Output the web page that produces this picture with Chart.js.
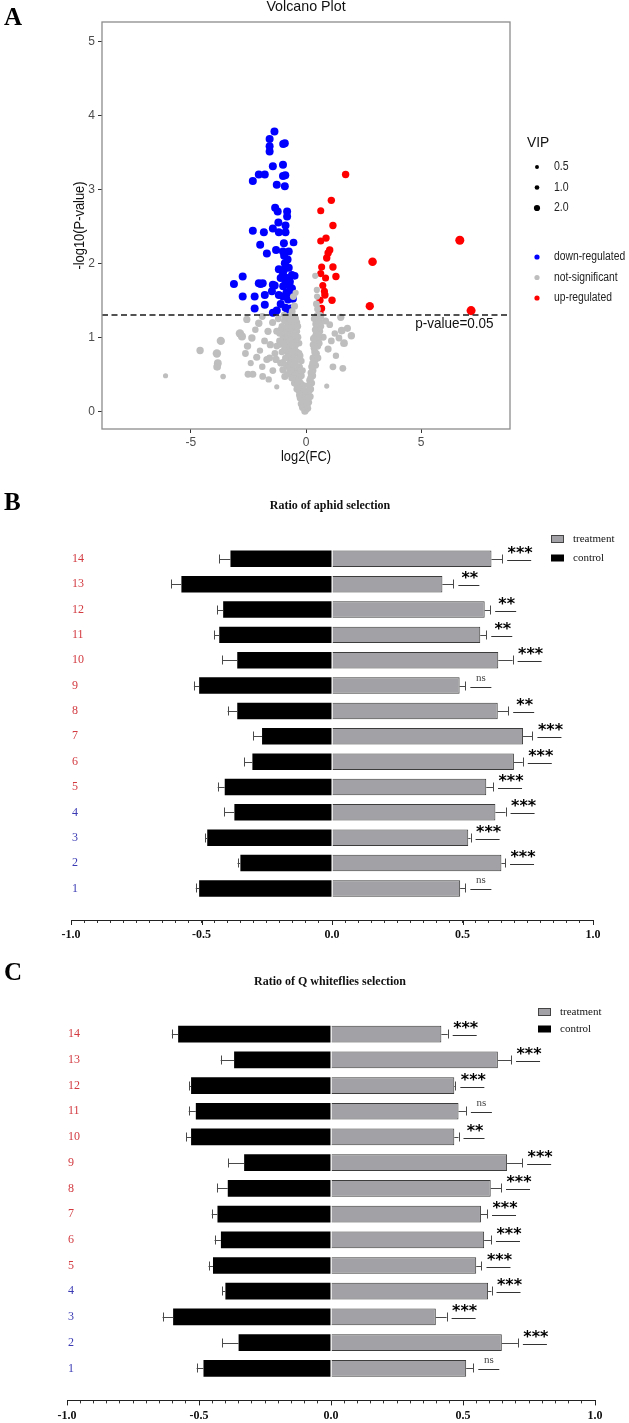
<!DOCTYPE html>
<html><head><meta charset="utf-8">
<script src="https://cdn.jsdelivr.net/npm/chart.js@4.4.1/dist/chart.umd.min.js"></script>
<style>
html,body{margin:0;padding:0;background:#fff;}
body{width:629px;height:1423px;position:relative;overflow:hidden;}
canvas{position:absolute;left:0;}
#cA{top:0px} #cB{top:470px} #cC{top:950px}
</style></head><body>
<canvas id="cA" width="629" height="470"></canvas>
<canvas id="cB" width="629" height="480"></canvas>
<canvas id="cC" width="629" height="473"></canvas>
<script>
// ================= Panel A : volcano data [log2FC, -log10 p, VIP] =================
const pThreshold = 0.05;
const vipLegend = [0.5, 1.0, 2.0];
const classLegend = ['down-regulated', 'not-significant', 'up-regulated'];

const downRegulated = [
[-1.37,3.78,3.2],[-1.58,3.68,3.2],[-0.99,3.61,3.2],[-0.92,3.62,3.2],[-1.58,3.58,3.2],[-1.58,3.51,3.2],
[-1.44,3.31,3.2],[-1.0,3.33,3.2],[-2.05,3.2,3.2],[-1.79,3.2,3.2],[-2.31,3.11,3.2],[-1.0,3.18,3.2],[-0.9,3.19,3.2],
[-1.27,3.06,3.2],[-0.92,3.04,3.2],[-1.34,2.75,3.2],[-1.23,2.70,3.2],[-0.82,2.70,3.2],[-0.82,2.63,3.2],[-0.89,2.51,3.2],
[-1.44,2.47,3.2],[-2.31,2.44,3.2],[-1.83,2.42,3.2],[-1.18,2.42,3.2],[-0.89,2.42,3.2],[-0.96,2.27,3.2],[-0.54,2.28,3.0],
[-1.99,2.25,3.2],[-1.30,2.18,3.2],[-1.0,2.16,3.2],[-0.75,2.16,3.2],[-1.70,2.13,3.2],[-0.92,2.0,3.2],[-0.87,1.96,3.2],
[-0.75,1.94,3.2],[-0.96,1.91,3.2],[-1.18,1.92,3.2],[-0.49,1.83,3.0],[-0.61,1.84,3.2],[-2.75,1.82,3.2],[-0.82,1.80,3.2],
[-1.1,1.80,3.2],[-3.13,1.72,3.2],[-2.05,1.73,3.2],[-1.88,1.73,3.2],[-1.44,1.71,3.2],[-0.99,1.69,3.2],[-0.71,1.69,3.2],
[-0.89,1.73,3.2],[-1.97,1.72,3.2],[-1.36,1.70,3.2],[-0.61,1.66,3.2],[-2.75,1.55,3.2],[-2.23,1.55,3.2],[-1.79,1.57,3.2],
[-1.48,1.62,3.2],[-1.18,1.57,3.2],[-1.0,1.55,3.2],[-0.78,1.51,3.2],[-0.57,1.52,3.2],[-1.79,1.44,3.2],[-2.23,1.39,3.2],
[-1.1,1.45,3.2],[-0.89,1.40,3.2],[-0.66,1.39,3.2],[-1.44,1.33,3.2],[-0.78,1.35,3.2],[-1.27,1.36,3.2],[-0.85,1.6,3.2],
[-0.7,1.58,3.2],[-1.0,1.85,3.2],[-0.8,2.05,3.2],[-0.95,2.1,3.2],[-1.2,2.55,3.2],[-0.7,1.75,3.2]
];

const upRegulated = [
[1.72,3.20,2.8],[1.10,2.85,2.8],[0.64,2.71,2.6],[1.17,2.51,2.8],[6.68,2.31,3.9],[0.87,2.34,2.8],[0.64,2.30,2.6],
[1.03,2.18,2.8],[0.96,2.14,2.8],[0.90,2.07,2.8],[2.89,2.02,3.6],[0.68,1.95,2.6],[1.17,1.95,2.8],[0.64,1.86,2.6],
[0.85,1.80,2.6],[1.30,1.82,2.8],[0.73,1.70,2.6],[0.82,1.57,2.8],[0.61,1.50,2.6],[1.13,1.50,2.8],[2.77,1.42,3.4],
[7.17,1.36,3.9],[0.61,1.33,2.6],[0.68,1.39,2.6],[0.8,1.62,2.6]
];

const notSignificant = [
[-6.1,0.48,1.3],[-4.6,0.82,2.8],[-3.7,0.95,3.4],[-3.87,0.78,3.5],[-3.83,0.65,3.1],[-3.86,0.6,3.0],[-3.6,0.47,1.6],
[-2.87,1.05,3.5],[-2.78,1.01,3.2],[-2.35,0.99,2.8],[-2.54,0.88,2.8],[-2.63,0.78,2.4],[-2.14,0.73,2.6],[-2.52,0.5,2.4],
[-2.31,0.5,2.6],[-1.88,0.47,2.4],[-1.62,0.43,2.1],[-1.27,0.33,1.3],
[-2.57,1.24,2.7],[-2.05,1.19,2.8],[-1.65,1.08,2.7],[-1.27,1.08,2.6],[-1.1,1.1,2.4],[-0.89,1.26,2.7],[-0.75,1.22,2.6],
[-1.27,0.88,2.4],[-1.7,0.7,2.6],[-1.58,0.72,2.4],[-1.3,0.7,2.7],[-1.1,0.65,2.4],[-1.0,0.56,2.7],[-0.92,0.47,2.6],
[-1.44,0.55,2.4],[-0.66,0.99,2.6],[-0.83,0.97,2.4],[-1.9,1.28,2.4],[-1.45,1.2,2.6],[-1.2,1.25,2.4],[-2.2,1.1,2.2],
[-1.8,0.95,2.4],[-1.55,0.9,2.7],[-2.0,0.82,2.1],[-1.35,0.78,2.4],[-0.95,0.82,2.6],[-1.15,0.95,2.4],[-2.4,0.65,1.9],[-1.9,0.6,2.2],
[1.51,1.27,2.7],[1.55,1.09,3.0],[1.97,1.02,2.8],[1.65,0.92,3.0],[1.43,0.99,2.4],[0.96,0.84,2.6],[1.17,0.6,2.4],
[1.6,0.58,2.4],[0.9,0.34,1.3],[1.03,1.17,2.4],[1.25,1.05,2.2],[1.1,0.95,2.4],[0.85,1.22,2.6],[1.3,0.75,2.1],[0.75,1.0,2.4],[1.8,1.12,2.6],
[0,0.02,2.4],[-0.1,0.05,2.6],[0.05,0.08,2.4],[-0.2,0.1,2.8],[0.12,0.12,2.4],[-0.05,0.15,2.8],[-0.25,0.18,2.6],[0.18,0.2,2.6],
[-0.15,0.22,2.8],[0.08,0.25,2.4],[-0.3,0.28,2.8],[-0.22,0.32,2.6],[-0.38,0.35,2.8],[-0.12,0.35,2.4],[0.2,0.3,2.6],[0.25,0.38,2.4],
[0.15,0.42,2.2],[-0.45,0.42,2.8],[-0.3,0.45,2.6],[-0.2,0.48,2.4],[0.28,0.48,2.8],[-0.55,0.5,2.4],
[-0.4,0.55,2.8],[-0.6,0.58,2.6],[-0.28,0.6,2.4],[0.3,0.55,2.6],[0.35,0.62,2.4],[-0.5,0.65,2.8],[-0.7,0.68,2.4],[-0.35,0.7,2.6],
[0.4,0.7,2.8],[0.3,0.72,2.4],[-0.8,0.75,2.2],[-0.55,0.76,2.8],[-0.4,0.8,2.6],[0.45,0.78,2.6],
[-0.65,0.84,2.8],[-0.9,0.88,2.4],[-0.45,0.9,2.6],[0.35,0.85,2.4],[0.5,0.88,2.8],[-0.75,0.93,2.6],[-0.55,0.98,2.8],[0.42,0.95,2.6],
[0.55,0.98,2.4],[-1.0,1.0,2.2],[-0.35,1.0,2.4],[-0.7,1.04,2.8],
[0.45,1.05,2.6],[0.6,1.08,2.4],[-0.5,1.1,2.6],[-0.85,1.12,2.4],[-1.05,1.15,2.2],[0.5,1.15,2.8],[-0.6,1.18,2.6],[0.62,1.2,2.4],
[-0.4,1.2,2.4],[-0.75,1.25,2.6],[0.55,1.25,2.6],[-0.55,1.28,2.4],[0.65,1.28,2.2],[-0.95,1.22,2.0],[0.48,1.3,2.0],
[-0.05,0.0,2.6],[0.02,0.1,2.8],[-0.12,0.12,2.4],[0.1,0.18,2.6],[-0.18,0.26,2.6],[0.15,0.28,2.4],[-0.25,0.38,2.8],[0.2,0.45,2.4],
[-0.35,0.52,2.6],[-0.15,0.55,2.2],[0.25,0.6,2.6],[-0.45,0.62,2.6],[-0.2,0.68,2.2],[0.35,0.68,2.4],[-0.6,0.72,2.6],[-0.3,0.78,2.4],
[0.38,0.8,2.6],[-0.5,0.84,2.6],[-0.75,0.82,2.4],[0.3,0.9,2.2],[-0.6,0.9,2.6],[-0.3,0.92,2.2],[0.48,0.92,2.4],[-0.85,0.98,2.4],
[-0.45,0.97,2.6],[0.38,1.0,2.4],[-0.6,1.02,2.6],[0.52,1.02,2.6],[-0.9,1.06,2.4],[-0.4,1.08,2.4],[0.4,1.1,2.4],[-0.7,1.12,2.6],
[0.58,1.12,2.4],[-0.5,1.16,2.6],[-0.8,1.18,2.4],[0.42,1.18,2.4],[-0.65,1.22,2.6],[0.5,1.22,2.6],[-0.45,1.25,2.4],[-0.85,1.28,2.2],
[0.6,1.3,2.4],[-0.65,1.3,2.4],[-0.7,0.55,2.4],[-0.85,0.62,2.4],[-0.9,0.72,2.2],[-1.05,0.8,2.2],[-1.1,0.9,2.0],
[-0.15,0.05,2.6],[0.08,0.04,2.4],[-0.08,0.28,2.6],[0.12,0.35,2.4],[-0.28,0.22,2.6],[-0.4,0.3,2.4],[-0.5,0.38,2.6],[-0.35,0.4,2.4],
[0.22,0.52,2.6],[-0.62,0.45,2.4],[-0.75,0.6,2.6],[-0.65,0.64,2.6],[-0.5,0.7,2.4],[-0.25,0.75,2.2],[0.42,0.62,2.4],[0.4,0.88,2.6],
[-0.95,0.92,2.4],[-0.8,1.02,2.6],[-0.5,1.03,2.4],[0.47,1.12,2.4],[-0.95,1.3,2.4],[-1.15,1.05,2.2],[-0.35,1.15,2.2],[0.35,1.25,2.2],
[0.65,1.15,2.2],[-0.7,0.95,2.6],[-0.85,0.85,2.6],[-0.6,0.8,2.6],[-1.0,0.66,2.4],[-0.8,0.5,2.2],[0.32,0.98,2.4],[0.58,0.92,2.2],
[0.52,0.72,2.4],[0.28,0.65,2.2],[-0.42,0.6,2.4],[-0.25,0.55,2.2],
[0.4,1.83,2.0],[0.47,1.64,2.0],[0.45,1.45,2.4],[0.5,1.38,2.4],[-0.55,1.55,2.4],[-0.5,1.42,2.6],[-0.6,1.35,2.4],[-0.45,1.6,2.0],[0.48,1.55,2.0]
];

// ================= Panels B & C : selection ratios =================
const rowLabels = ['1','2','3','4','5','6','7','8','9','10','11','12','13','14'];
const rowGroup  = ['blue','blue','blue','blue','red','red','red','red','red','red','red','red','red','red'];
const majorTicks = [-1.0, -0.5, 0.0, 0.5, 1.0];

const aphidControl     = [-0.509,-0.351,-0.478,-0.374,-0.411,-0.305,-0.268,-0.363,-0.509,-0.363,-0.432,-0.417,-0.577,-0.389];
const aphidControlSE   = [0.013,0.011,0.008,0.038,0.027,0.032,0.034,0.037,0.020,0.057,0.020,0.023,0.038,0.043];
const aphidTreatment   = [0.491,0.649,0.522,0.626,0.591,0.697,0.732,0.635,0.489,0.637,0.568,0.585,0.423,0.611];
const aphidTreatmentSE = [0.020,0.014,0.009,0.039,0.026,0.034,0.036,0.040,0.022,0.055,0.023,0.021,0.042,0.041];
const aphidSig         = ['ns','***','***','***','***','***','***','**','ns','***','**','**','**','***'];

const whiteflyControl     = [-0.483,-0.350,-0.598,-0.400,-0.447,-0.417,-0.430,-0.391,-0.329,-0.530,-0.512,-0.530,-0.367,-0.579];
const whiteflyControlSE   = [0.026,0.061,0.040,0.012,0.017,0.024,0.022,0.041,0.060,0.018,0.027,0.006,0.051,0.024];
const whiteflyTreatment   = [0.512,0.647,0.397,0.595,0.550,0.580,0.568,0.605,0.667,0.467,0.483,0.467,0.632,0.418];
const whiteflyTreatmentSE = [0.027,0.061,0.041,0.013,0.020,0.026,0.023,0.039,0.057,0.016,0.028,0.004,0.050,0.024];
const whiteflySig         = ['ns','***','***','***','***','***','***','***','***','**','ns','***','***','***'];

// ================= styling =================
const SERIF = "'Liberation Serif','Times New Roman',serif";
const SANS = "'Liberation Sans',Arial,sans-serif";
const vipRadius = v => 1.6 + 0.75 * v;
Chart.defaults.font.family = SERIF;

function letter(ctx, t, x, y) {
  ctx.save(); ctx.fillStyle = '#000'; ctx.font = `bold 25px ${SERIF}`;
  ctx.textAlign = 'left'; ctx.textBaseline = 'alphabetic'; ctx.fillText(t, x, y); ctx.restore();
}
// condensed text (ggplot's narrow Helvetica look)
function narrowText(ctx, t, x, y, sx) {
  ctx.save(); ctx.translate(x, y); ctx.scale(sx, 1); ctx.fillText(t, 0, 0); ctx.restore();
}

// ================= Panel A chart =================
const toPts = arr => arr.map(p => ({x: p[0], y: p[1], v: p[2]}));
const volcanoDecor = {
  id: 'volcanoDecor',
  afterDatasetsDraw(chart) {
    const {ctx, chartArea: a} = chart; const xs = chart.scales.x, ys = chart.scales.y;
    ctx.save();
    const yT = ys.getPixelForValue(-Math.log10(pThreshold));
    ctx.setLineDash([6, 3.5]); ctx.strokeStyle = '#1a1a1a'; ctx.lineWidth = 1.4;
    ctx.beginPath(); ctx.moveTo(a.left, yT); ctx.lineTo(a.right, yT); ctx.stroke(); ctx.setLineDash([]);
    ctx.fillStyle = '#111'; ctx.font = `15px ${SANS}`; ctx.textAlign = 'left'; ctx.textBaseline = 'middle';
    narrowText(ctx, 'p-value=0.05', xs.getPixelForValue(4.74), yT + 8.5, 0.9);
    ctx.strokeStyle = '#8c8c8c'; ctx.lineWidth = 1.3;
    ctx.strokeRect(a.left, a.top, a.right - a.left, a.bottom - a.top);
    ctx.fillStyle = '#111'; ctx.textAlign = 'center'; ctx.textBaseline = 'alphabetic';
    ctx.font = `15px ${SANS}`; narrowText(ctx, 'Volcano Plot', (a.left + a.right) / 2, 11, 0.95);
    ctx.font = `14px ${SANS}`; narrowText(ctx, 'log2(FC)', (a.left + a.right) / 2, 461, 0.92);
    ctx.save(); ctx.translate(80, (a.top + a.bottom) / 2); ctx.rotate(-Math.PI / 2);
    ctx.textBaseline = 'middle'; narrowText(ctx, '-log10(P-value)', 0, 0, 0.92); ctx.restore();
    // legend
    ctx.textAlign = 'left'; ctx.textBaseline = 'middle';
    ctx.font = `15px ${SANS}`; ctx.fillStyle = '#111'; narrowText(ctx, 'VIP', a.right + 17, 143, 0.92);
    ctx.font = `12px ${SANS}`;
    vipLegend.forEach((v, i) => {
      const y = 167 + i * 20.5;
      ctx.fillStyle = '#000'; ctx.beginPath(); ctx.arc(a.right + 27, y, vipRadius(v), 0, Math.PI * 2); ctx.fill();
      ctx.fillStyle = '#222'; narrowText(ctx, v.toFixed(1), a.right + 44, y, 0.88);
    });
    const cols = ['#0000ff', '#bebebe', '#ff0000'];
    classLegend.forEach((c, i) => {
      const y = 257 + i * 20.5;
      ctx.fillStyle = cols[i]; ctx.beginPath(); ctx.arc(a.right + 27, y, 2.6, 0, Math.PI * 2); ctx.fill();
      ctx.fillStyle = '#222'; narrowText(ctx, c, a.right + 44, y, 0.86);
    });
    ctx.restore();
    letter(ctx, 'A', 4, 25);
  }
};

new Chart(document.getElementById('cA'), {
  type: 'scatter',
  data: { datasets: [
    { label: 'not-significant', data: toPts(notSignificant), backgroundColor: '#bebebe', borderWidth: 0, pointRadius: c => vipRadius(c.raw.v) },
    { label: 'down-regulated', data: toPts(downRegulated), backgroundColor: '#0000ff', borderWidth: 0, pointRadius: c => vipRadius(c.raw.v) },
    { label: 'up-regulated', data: toPts(upRegulated), backgroundColor: '#ff0000', borderWidth: 0, pointRadius: c => vipRadius(c.raw.v) }
  ]},
  options: {
    responsive: false, animation: false, events: [],
    layout: { padding: { left: 0, top: 22, right: 119, bottom: 0 } },
    plugins: { legend: { display: false }, tooltip: { enabled: false } },
    scales: {
      x: { type: 'linear', min: -8.86, max: 8.86, afterFit: s => { s.height = 41; },
           grid: { drawOnChartArea: false, tickLength: 4, tickColor: '#333' }, border: { display: false },
           ticks: { stepSize: 5, includeBounds: false, padding: 2, color: '#4d4d4d', font: { family: SANS, size: 12 } } },
      y: { type: 'linear', min: -0.24, max: 5.26, afterFit: s => { s.width = 102; },
           grid: { drawOnChartArea: false, tickLength: 4, tickColor: '#333' }, border: { display: false },
           ticks: { stepSize: 1, includeBounds: false, padding: 3, color: '#4d4d4d', font: { family: SANS, size: 12 } } }
    }
  },
  plugins: [volcanoDecor]
});

// ================= Panels B & C charts =================
function makeBarChart(id, d, L) {
  const sigLen = {'***': 24, '**': 21, 'ns': 21};
  const isMajor = v => Math.abs(v * 2 - Math.round(v * 2)) < 1e-6;
  const decor = {
    id: 'barDecor',
    afterDatasetsDraw(chart) {
      const {ctx, chartArea: a} = chart; const xs = chart.scales.x, ys = chart.scales.y;
      ctx.save();
      ctx.strokeStyle = '#222'; ctx.lineWidth = 1;
      majorTicks.forEach(v => { const x = Math.round(xs.getPixelForValue(v)) + 0.5;
        ctx.beginPath(); ctx.moveTo(x, a.bottom); ctx.lineTo(x, a.bottom + 5); ctx.stroke(); });
      const errBar = (x0, x1, y) => {
        ctx.strokeStyle = '#4a4a4a'; ctx.lineWidth = 1;
        ctx.beginPath(); ctx.moveTo(x0, y + 0.5); ctx.lineTo(x1, y + 0.5);
        ctx.moveTo(Math.round(x1) + 0.5, y - 4.5); ctx.lineTo(Math.round(x1) + 0.5, y + 4.5); ctx.stroke();
      };
      d.control.forEach((v, i) => {
        const y = Math.round(ys.getPixelForValue(i + 1));
        errBar(xs.getPixelForValue(v), xs.getPixelForValue(v - d.controlSE[i]), y);
        const xe = xs.getPixelForValue(d.treatment[i] + d.treatmentSE[i]);
        errBar(xs.getPixelForValue(d.treatment[i]), xe, y);
        const s = d.sig[i], len = sigLen[s], xs0 = xe + 5;
        ctx.strokeStyle = '#333'; ctx.lineWidth = 1;
        ctx.beginPath(); ctx.moveTo(xs0, y + 1.5); ctx.lineTo(xs0 + len, y + 1.5); ctx.stroke();
        ctx.textAlign = 'center'; ctx.textBaseline = 'alphabetic';
        if (s === 'ns') { ctx.fillStyle = '#444'; ctx.font = `11px ${SERIF}`; ctx.fillText(s, xs0 + len / 2, y - 5); }
        else { ctx.fillStyle = '#000'; ctx.font = `bold 16px 'DejaVu Sans',sans-serif`; ctx.fillText(s, xs0 + len / 2 + 1, y - 1); }
      });
      // legend
      ctx.textAlign = 'left'; ctx.textBaseline = 'middle'; ctx.font = `11px ${SERIF}`;
      ctx.fillStyle = '#a2a2a6'; ctx.fillRect(L.legX, L.legY - 3.5, 13, 7);
      ctx.strokeStyle = '#444'; ctx.strokeRect(L.legX + 0.5, L.legY - 3.5, 12, 7);
      ctx.fillStyle = '#000'; ctx.fillRect(L.legX, L.legY + L.legGap - 3.5, 13, 7);
      ctx.fillStyle = '#111'; ctx.fillText('treatment', L.legTextX, L.legY); ctx.fillText('control', L.legTextX, L.legY + L.legGap);
      // title
      ctx.font = `bold 12px ${SERIF}`; ctx.textAlign = 'center'; ctx.textBaseline = 'alphabetic';
      ctx.fillText(L.title, 330, L.titleY);
      ctx.restore();
      letter(ctx, L.letter, 4, L.letterY);
    }
  };
  return new Chart(document.getElementById(id), {
    type: 'bar',
    data: { datasets: [
      { label: 'treatment', data: d.treatment.map((v, i) => ({x: v, y: i + 1})), backgroundColor: '#a2a2a6',
        borderColor: '#3c3c3c', borderWidth: 1, grouped: false, barPercentage: 0.65, categoryPercentage: 1 },
      { label: 'control', data: d.control.map((v, i) => ({x: v, y: i + 1})), backgroundColor: '#000',
        borderColor: '#000', borderWidth: 0, grouped: false, barPercentage: 0.65, categoryPercentage: 1 }
    ]},
    options: {
      indexAxis: 'y', responsive: false, animation: false, events: [],
      layout: { padding: { left: L.left, right: 629 - L.right, top: L.top, bottom: 0 } },
      plugins: { legend: { display: false }, tooltip: { enabled: false } },
      scales: {
        x: { type: 'linear', min: -1, max: 1, afterFit: s => { s.height = L.xh; },
             ticks: { stepSize: 0.05, maxTicksLimit: 100, autoSkip: false, includeBounds: false, maxRotation: 0, padding: 5,
                      color: '#111', font: { family: SERIF, size: 12, weight: 'bold' },
                      callback: v => isMajor(v) ? (Math.round(v * 2) / 2).toFixed(1) : '' },
             grid: { drawOnChartArea: false, drawTicks: true, tickLength: 3, tickColor: '#333' },
             border: { color: '#222', width: 1 } },
        y: { type: 'linear', min: 0.3, max: 14.5, afterFit: s => { s.width = 0; },
             ticks: { stepSize: 1, includeBounds: false, autoSkip: false, mirror: true, padding: 1,
                      font: { family: SERIF, size: 12 },
                      color: c => rowGroup[Math.round(c.tick.value) - 1] === 'blue' ? '#3a3ab4' : '#d23a40',
                      callback: v => (Number.isInteger(v) && v >= 1 && v <= 14) ? rowLabels[v - 1] : '' },
             grid: { display: false }, border: { display: false } }
      }
    },
    plugins: [decor]
  });
}

makeBarChart('cB',
  { control: aphidControl, controlSE: aphidControlSE, treatment: aphidTreatment, treatmentSE: aphidTreatmentSE, sig: aphidSig },
  { left: 71, right: 593, top: 62.3, xh: 30, legX: 551, legTextX: 573, legY: 69, legGap: 19,
    title: 'Ratio of aphid selection', titleY: 38.5, letter: 'B', letterY: 40 });
makeBarChart('cC',
  { control: whiteflyControl, controlSE: whiteflyControlSE, treatment: whiteflyTreatment, treatmentSE: whiteflyTreatmentSE, sig: whiteflySig },
  { left: 67, right: 595, top: 57.2, xh: 22.6, legX: 538, legTextX: 560, legY: 62, legGap: 17,
    title: 'Ratio of Q whiteflies selection', titleY: 34.5, letter: 'C', letterY: 30 });
</script>
</body></html>
